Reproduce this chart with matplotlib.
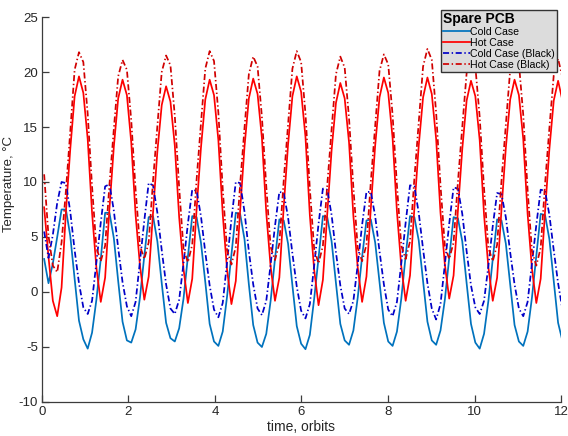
import numpy as np
import matplotlib
matplotlib.use("Agg")
import matplotlib.pyplot as plt

plt.rcParams['font.family'] = ['Liberation Sans', 'DejaVu Sans']

# Sampling of the thermal model output (time in orbits)
sample_start = 0.05
sample_step = 0.1007

# Spare PCB temperatures, degC, ten samples per orbit
cold_case = [
    3.0, 0.8, 2.6, 5.0, 7.5, 7.5, 5.1, 1.2, -2.6, -4.3,
    -5.15, -3.7, -0.7, 3.0, 7.2, 7.2, 4.9, 1.0, -2.7, -4.4,
    -4.6, -3.4, -0.5, 3.3, 6.8, 6.9, 4.6, 0.8, -2.8, -4.2,
    -4.5, -3.3, -0.6, 3.2, 6.9, 6.8, 4.5, 0.9, -2.9, -4.5,
    -4.9, -3.6, -0.4, 3.4, 7.2, 7.1, 4.8, 0.7, -3.0, -4.6,
    -5.0, -3.8, -0.8, 3.0, 6.6, 6.5, 4.4, 0.6, -3.1, -4.7,
    -5.2, -3.9, -0.6, 3.1, 6.9, 6.8, 4.6, 0.8, -2.9, -4.4,
    -4.8, -3.5, -0.5, 3.2, 6.5, 6.6, 4.5, 0.9, -2.8, -4.5,
    -4.9, -3.6, -0.6, 3.3, 6.9, 6.8, 4.7, 1.0, -2.7, -4.4,
    -4.8, -3.5, -0.7, 3.1, 6.8, 6.7, 4.6, 0.8, -2.9, -4.6,
    -5.15, -3.8, -0.8, 3.0, 6.6, 6.5, 4.4, 0.7, -3.0, -4.5,
    -4.9, -3.6, -0.5, 3.3, 7.1, 7.0, 4.8, 1.0, -2.8, -4.45,
]

hot_case = [
    7.7, 3.2, -0.8, -2.2, 0.4, 7.3, 13.0, 17.8, 19.6, 18.1,
    13.9, 7.2, 2.2, -0.9, 1.3, 7.6, 13.2, 17.6, 19.3, 17.9,
    13.6, 7.0, 2.4, -0.7, 1.4, 7.2, 12.8, 17.0, 18.7, 17.3,
    13.3, 6.8, 2.1, -1.0, 1.2, 7.5, 13.1, 17.5, 19.3, 17.9,
    13.8, 7.1, 2.0, -1.1, 1.0, 7.4, 13.2, 17.6, 19.4, 18.0,
    14.0, 7.2, 2.3, -0.8, 1.3, 7.7, 13.4, 17.8, 19.6, 18.2,
    14.1, 7.0, 2.0, -1.2, 1.1, 7.1, 12.9, 17.2, 19.0, 17.6,
    13.6, 6.9, 2.2, -0.9, 1.4, 7.6, 13.3, 17.7, 19.5, 18.1,
    14.0, 7.3, 2.3, -0.8, 1.5, 7.6, 13.3, 17.7, 19.5, 18.0,
    13.9, 7.2, 2.5, -0.6, 1.5, 7.4, 13.0, 17.4, 19.2, 17.8,
    13.8, 7.0, 2.2, -0.8, 1.3, 7.5, 13.1, 17.5, 19.3, 17.9,
    13.9, 7.1, 2.1, -1.0, 1.2, 7.3, 13.0, 17.4, 19.2, 17.4,
]

cold_case_black = [
    5.5, 3.1, 5.2, 8.1, 10.0, 9.9, 7.3, 3.8, 0.8, -1.4,
    -2.0, -0.8, 2.7, 6.3, 9.6, 9.8, 7.4, 4.0, 0.9, -1.3,
    -2.2, -0.9, 2.8, 6.5, 9.9, 9.7, 7.2, 3.8, 0.7, -1.5,
    -2.0, -0.7, 2.6, 6.2, 9.3, 9.2, 6.9, 3.6, 0.6, -1.6,
    -2.3, -1.0, 2.7, 6.6, 10.0, 9.9, 7.3, 3.7, 0.7, -1.5,
    -2.1, -0.8, 2.5, 6.0, 9.1, 9.0, 6.8, 3.5, 0.5, -1.7,
    -2.4, -1.1, 2.4, 6.2, 9.4, 9.3, 7.0, 3.6, 0.6, -1.5,
    -2.0, -0.8, 2.5, 6.1, 9.1, 9.1, 6.9, 3.7, 0.7, -1.6,
    -2.2, -0.9, 2.6, 6.3, 9.7, 9.6, 7.2, 3.9, 0.8, -1.5,
    -2.5, -1.1, 2.5, 6.2, 9.5, 9.4, 7.1, 3.7, 0.6, -1.4,
    -2.0, -0.8, 2.4, 6.0, 9.0, 8.9, 6.8, 3.6, 0.7, -1.5,
    -2.2, -0.9, 2.6, 6.1, 9.3, 9.2, 7.0, 3.8, 0.8, -1.6,
]

hot_case_black = [
    10.7, 5.1, 2.4, 1.8, 4.5, 9.2, 14.6, 20.2, 21.8, 20.9,
    16.2, 9.6, 4.0, 2.8, 4.2, 9.8, 14.8, 19.6, 21.1, 20.2,
    15.6, 9.3, 4.2, 3.0, 4.5, 10.1, 15.1, 20.0, 21.5, 20.6,
    16.0, 9.5, 3.9, 2.7, 4.3, 10.2, 15.3, 20.3, 21.9, 21.0,
    16.3, 9.4, 3.8, 2.5, 4.1, 9.8, 14.9, 19.8, 21.4, 20.5,
    15.9, 9.6, 4.1, 2.9, 4.4, 10.1, 15.2, 20.3, 21.9, 20.9,
    16.2, 9.4, 3.9, 2.6, 4.2, 9.7, 14.8, 19.8, 21.4, 20.4,
    15.8, 9.5, 4.0, 2.8, 4.3, 10.0, 15.1, 20.1, 21.6, 20.7,
    16.1, 9.7, 4.2, 3.0, 4.6, 10.3, 15.4, 20.5, 22.1, 21.1,
    16.3, 9.7, 4.2, 3.0, 4.5, 10.0, 15.0, 19.9, 21.4, 20.5,
    15.9, 9.4, 4.0, 2.8, 4.3, 10.1, 15.2, 20.2, 21.7, 20.8,
    16.1, 9.3, 3.7, 2.4, 4.0, 9.8, 14.9, 19.7, 21.2, 19.5,
]

series_labels = ["Cold Case", "Hot Case", "Cold Case (Black)", "Hot Case (Black)"]
x_ticks = [0, 2, 4, 6, 8, 10, 12]
y_ticks = [-10, -5, 0, 5, 10, 15, 20, 25]

time = sample_start + sample_step * np.arange(len(cold_case))

fig = plt.figure(figsize=(5.68, 4.36), dpi=100)
ax = fig.add_axes([0.0739, 0.078, 0.9138, 0.883])

dash_dot = (3.5, 1.5, 0.8, 1.5)
ax.plot(time, cold_case, color="#0072BD", lw=1.25, ls="-", label=series_labels[0])
ax.plot(time, hot_case, color="#FF0000", lw=1.25, ls="-", label=series_labels[1])
ax.plot(time, cold_case_black, color="#0000C8", lw=1.25, dashes=dash_dot, label=series_labels[2])
ax.plot(time, hot_case_black, color="#D00000", lw=1.25, dashes=dash_dot, label=series_labels[3])

ax.set_xlim(0, 12)
ax.set_ylim(-10, 25)
ax.set_xticks(x_ticks)
ax.set_yticks(y_ticks)
ax.set_xticklabels([str(v) for v in x_ticks])
ax.set_yticklabels([str(v) for v in y_ticks])

axis_gray = "#3c3c3c"
for side in ("top", "right"):
    ax.spines[side].set_visible(False)
for side in ("left", "bottom"):
    ax.spines[side].set_color(axis_gray)
    ax.spines[side].set_linewidth(0.9)
ax.tick_params(direction="in", length=5, width=0.9, color=axis_gray,
               labelsize=9.5, labelcolor="#262626", pad=3)

ax.set_xlabel("time, orbits", fontsize=10, color="#262626")
ax.set_ylabel("Temperature, °C", fontsize=9.5, color="#262626")
ax.xaxis.set_label_coords(0.5, -0.047)
ax.yaxis.set_label_coords(-0.052, 0.565)

leg = ax.legend(loc="upper left", bbox_to_anchor=(0.776, 0.978),
                bbox_transform=fig.transFigure,
                title="Spare PCB", alignment="left",
                prop={"size": 7.6}, title_fontproperties={"size": 10, "weight": "bold"},
                frameon=True, fancybox=False, framealpha=1,
                facecolor="#dcdcdc", edgecolor="#333333",
                handlelength=2.5, handletextpad=0.0, labelspacing=0.08,
                borderpad=0.25, borderaxespad=0)
leg.get_frame().set_linewidth(1.0)
leg.set_zorder(10)

fig.savefig("out.png", dpi=100)
